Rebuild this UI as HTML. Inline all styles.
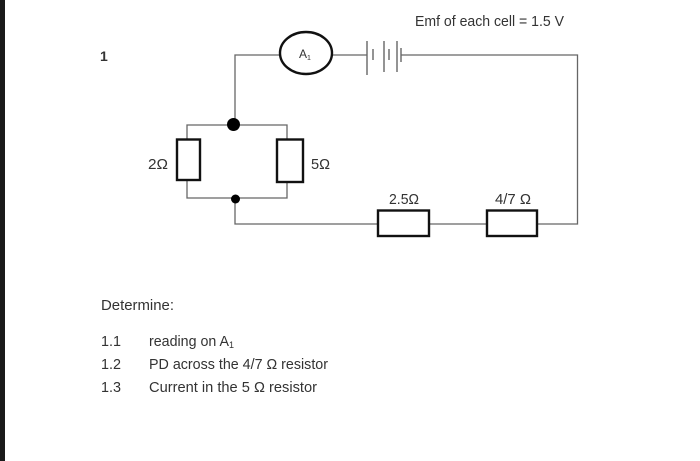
<!DOCTYPE html>
<html>
<head>
<meta charset="utf-8">
<style>
html,body{margin:0;padding:0;background:#fff;width:700px;height:461px;overflow:hidden}
svg{display:block}
text{font-family:"Liberation Sans",sans-serif;fill:#333;font-size:15px}
</style>
</head>
<body>
<svg width="700" height="461" viewBox="0 0 700 461" xmlns="http://www.w3.org/2000/svg">
<rect x="0" y="0" width="5" height="461" fill="#1a1a1a"/>
<g fill="none" stroke="#666" stroke-width="1.3">
<path d="M279 55H235V124"/>
<path d="M332 55H367"/>
<path d="M401 55H577.5V224H537"/>
<path d="M187 139V125H287V139"/>
<path d="M187 180V198H287V182"/>
<path d="M235 199V224H377"/>
<path d="M429 224H486"/>
<path d="M367 41V75M384 41V72M397 41V72M401 48V62" stroke-width="1.4"/>
<path d="M373 49V60M389 49V60" stroke-width="1.4"/>
</g>
<ellipse cx="306" cy="53" rx="26" ry="21" fill="#fff" stroke="#111" stroke-width="2.4"/>
<g fill="#fff" stroke="#111" stroke-width="2.4">
<rect x="177" y="139.500" width="23" height="40.500"/>
<rect x="277" y="139.500" width="26" height="42.500"/>
<rect x="378" y="210.500" width="51" height="25.500"/>
<rect x="487" y="210.500" width="50" height="25.500"/>
</g>
<circle cx="233.500" cy="124.500" r="6.500" fill="#000"/>
<circle cx="235.500" cy="199" r="4.500" fill="#000"/>
<text x="415" y="26" textLength="149" lengthAdjust="spacingAndGlyphs">Emf of each cell = 1.5 V</text>
<text x="100" y="61" style="font-weight:bold;font-size:14px">1</text>
<text x="299" y="58" style="font-size:12px">A<tspan dy="2" style="font-size:7px">1</tspan></text>
<text x="148" y="169" textLength="20" lengthAdjust="spacingAndGlyphs">2Ω</text>
<text x="311" y="169" textLength="19" lengthAdjust="spacingAndGlyphs">5Ω</text>
<text x="389" y="204" textLength="30" lengthAdjust="spacingAndGlyphs">2.5Ω</text>
<text x="495" y="204" textLength="36" lengthAdjust="spacingAndGlyphs">4/7 Ω</text>
<text x="101" y="310" textLength="73" lengthAdjust="spacingAndGlyphs">Determine:</text>
<text x="101" y="346" textLength="20" lengthAdjust="spacingAndGlyphs">1.1</text>
<text x="149" y="346" textLength="80" lengthAdjust="spacingAndGlyphs">reading on A</text>
<text x="229" y="348" style="font-size:9px">1</text>
<text x="101" y="369" textLength="20" lengthAdjust="spacingAndGlyphs">1.2</text>
<text x="149" y="369" textLength="179" lengthAdjust="spacingAndGlyphs">PD across the 4/7 Ω resistor</text>
<text x="101" y="392" textLength="20" lengthAdjust="spacingAndGlyphs">1.3</text>
<text x="149" y="392" textLength="168" lengthAdjust="spacingAndGlyphs">Current in the 5 Ω resistor</text>
</svg>
</body>
</html>
